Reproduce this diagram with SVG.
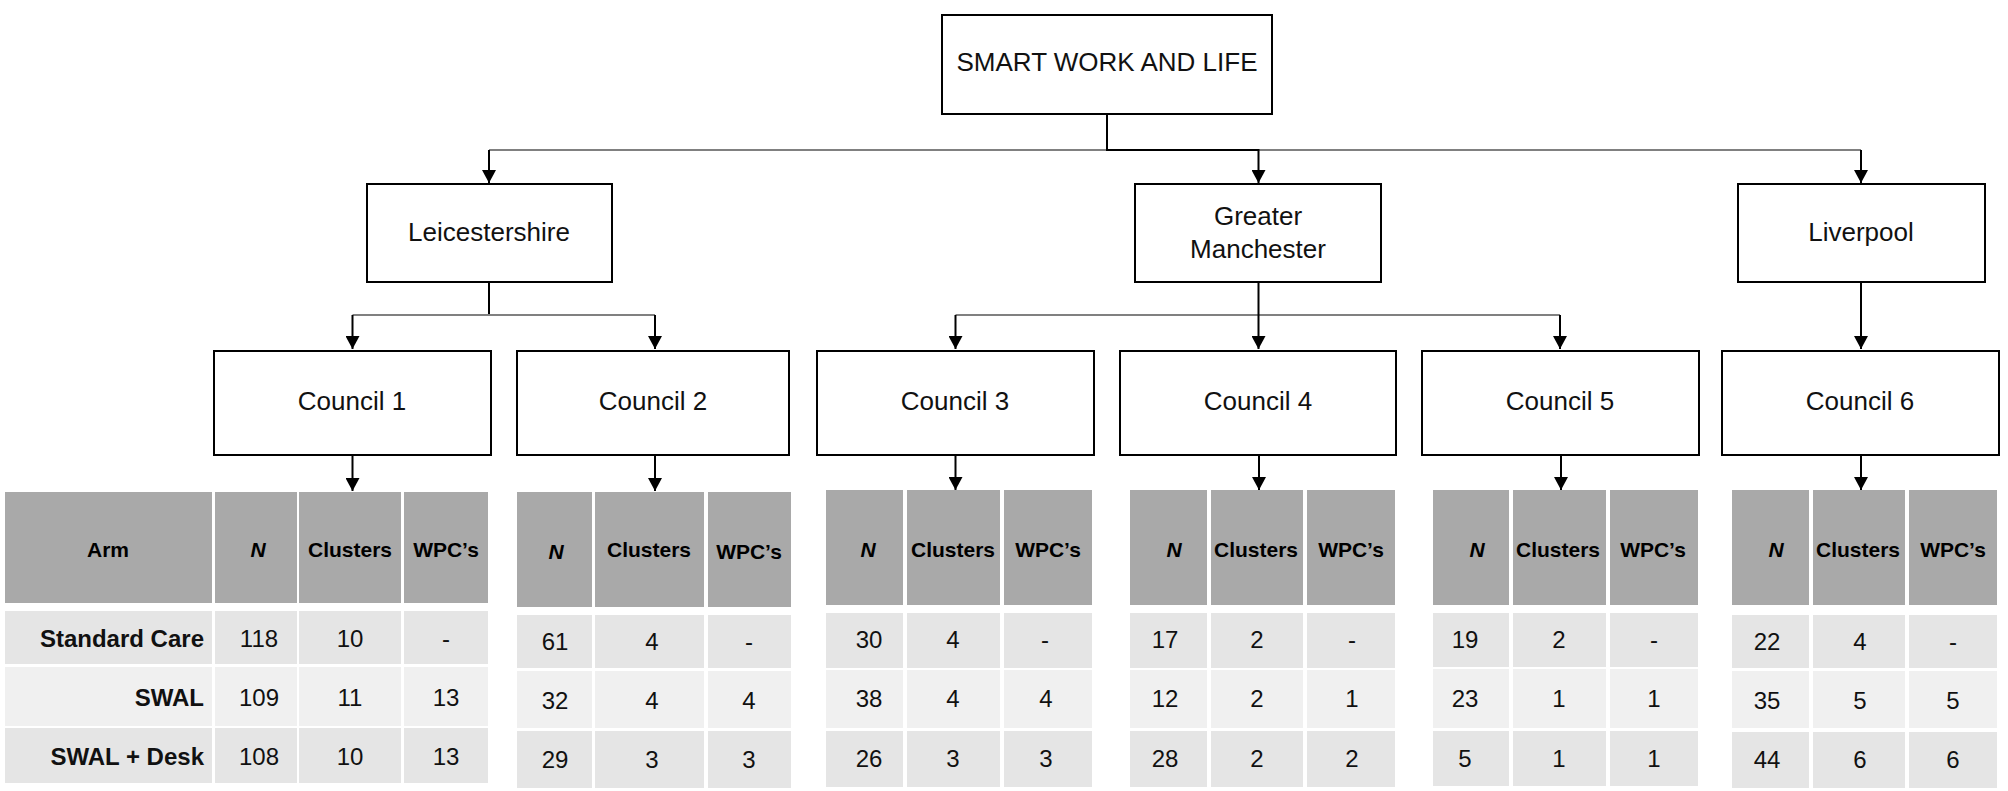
<svg xmlns="http://www.w3.org/2000/svg" width="2008" height="791" viewBox="0 0 2008 791">
<defs>
<style>
.box{fill:#fff;stroke:#000;stroke-width:2}
.lbl{font-family:"Liberation Sans",Arial,sans-serif;font-size:26px;fill:#111;text-anchor:middle}
.c{fill:none;stroke:#000;stroke-width:2}
.g{fill:none;stroke:#808080;stroke-width:2}
.a{marker-end:url(#arr)}
.h{fill:#a9a9a9}
.r1{fill:#e5e5e5}
.r2{fill:#f0f0f0}
.ht{font-family:"Liberation Sans",Arial,sans-serif;font-size:21px;font-weight:bold;fill:#000;text-anchor:middle}
.hn{font-style:italic}
.v{font-family:"Liberation Sans",Arial,sans-serif;font-size:24px;fill:#111;text-anchor:middle}
.rl{font-family:"Liberation Sans",Arial,sans-serif;font-size:24px;font-weight:bold;fill:#111;text-anchor:end}
</style>
<marker id="arr" viewBox="0 0 13 14" refX="13" refY="7" markerWidth="13" markerHeight="14" markerUnits="userSpaceOnUse" orient="auto">
<path d="M0,0 L13,7 L0,14 z" fill="#000"/>
</marker>
</defs>
<rect width="2008" height="791" fill="#fff"/>

<g id="connectors">
<path class="g" d="M489,150 H1861"/>
<path class="c a" d="M1107,114 V150 H1258.5 V183"/>
<path class="c a" d="M489,150 V183"/>
<path class="c a" d="M1861,150 V183"/>
<path class="c" d="M489,282 V315"/>
<path class="g" d="M352.5,315 H655"/>
<path class="c a" d="M352.5,315 V349"/>
<path class="c a" d="M655,315 V349"/>
<path class="g" d="M955.5,315 H1560"/>
<path class="c a" d="M1258.5,282 V349"/>
<path class="c a" d="M955.5,315 V349"/>
<path class="c a" d="M1560,315 V349"/>
<path class="c a" d="M1861,282 V349"/>
<path class="c a" d="M352.5,456 V491"/>
<path class="c a" d="M655,456 V491"/>
<path class="c a" d="M955.5,456 V490"/>
<path class="c a" d="M1259,456 V490"/>
<path class="c a" d="M1561,456 V490"/>
<path class="c a" d="M1861,456 V490"/>
</g>

<g id="root">
<rect class="box" x="942" y="15" width="330" height="99"/>
<text class="lbl" x="1107" y="71" font-size="25">SMART WORK AND LIFE</text>
</g>
<g id="leicestershire">
<rect class="box" x="367" y="184" width="245" height="98"/>
<text class="lbl" x="489" y="241">Leicestershire</text>
</g>
<g id="greater-manchester">
<rect class="box" x="1135" y="184" width="246" height="98"/>
<text class="lbl" x="1258" y="225">Greater</text>
<text class="lbl" x="1258" y="258">Manchester</text>
</g>
<g id="liverpool">
<rect class="box" x="1738" y="184" width="247" height="98"/>
<text class="lbl" x="1861" y="241">Liverpool</text>
</g>

<g id="council1">
<rect class="box" x="214" y="351" width="277" height="104"/>
<text class="lbl" x="352" y="410">Council 1</text>
</g>
<g id="council2">
<rect class="box" x="517" y="351" width="272" height="104"/>
<text class="lbl" x="653" y="410">Council 2</text>
</g>
<g id="council3">
<rect class="box" x="817" y="351" width="277" height="104"/>
<text class="lbl" x="955" y="410">Council 3</text>
</g>
<g id="council4">
<rect class="box" x="1120" y="351" width="276" height="104"/>
<text class="lbl" x="1258" y="410">Council 4</text>
</g>
<g id="council5">
<rect class="box" x="1422" y="351" width="277" height="104"/>
<text class="lbl" x="1560" y="410">Council 5</text>
</g>
<g id="council6">
<rect class="box" x="1722" y="351" width="277" height="104"/>
<text class="lbl" x="1860" y="410">Council 6</text>
</g>

<g id="table1">
<rect class="h" x="5" y="492" width="207" height="111"/>
<rect class="h" x="215" y="492" width="82" height="111"/>
<rect class="h" x="299" y="492" width="102" height="111"/>
<rect class="h" x="404" y="492" width="84" height="111"/>
<rect class="r1" x="5" y="611" width="207" height="53"/>
<rect class="r1" x="215" y="611" width="82" height="53"/>
<rect class="r1" x="299" y="611" width="102" height="53"/>
<rect class="r1" x="404" y="611" width="84" height="53"/>
<rect class="r2" x="5" y="667" width="207" height="59"/>
<rect class="r2" x="215" y="667" width="82" height="59"/>
<rect class="r2" x="299" y="667" width="102" height="59"/>
<rect class="r2" x="404" y="667" width="84" height="59"/>
<rect class="r1" x="5" y="728" width="207" height="55"/>
<rect class="r1" x="215" y="728" width="82" height="55"/>
<rect class="r1" x="299" y="728" width="102" height="55"/>
<rect class="r1" x="404" y="728" width="84" height="55"/>
<text class="ht" x="108" y="557">Arm</text>
<text class="ht hn" x="258" y="557">N</text>
<text class="ht" x="350" y="557">Clusters</text>
<text class="ht" x="446" y="557">WPC’s</text>
<text class="rl" x="204" y="647">Standard Care</text>
<text class="rl" x="204" y="706">SWAL</text>
<text class="rl" x="204" y="765">SWAL + Desk</text>
<text class="v" x="259" y="647">118</text>
<text class="v" x="350" y="647">10</text>
<text class="v" x="446" y="647">-</text>
<text class="v" x="259" y="706">109</text>
<text class="v" x="350" y="706">11</text>
<text class="v" x="446" y="706">13</text>
<text class="v" x="259" y="765">108</text>
<text class="v" x="350" y="765">10</text>
<text class="v" x="446" y="765">13</text>
</g>

<g id="table2">
<rect class="h" x="517" y="492" width="75" height="115"/>
<rect class="h" x="595" y="492" width="109" height="115"/>
<rect class="h" x="708" y="492" width="83" height="115"/>
<rect class="r1" x="517" y="615" width="75" height="53"/>
<rect class="r1" x="595" y="615" width="109" height="53"/>
<rect class="r1" x="708" y="615" width="83" height="53"/>
<rect class="r2" x="517" y="671" width="75" height="57"/>
<rect class="r2" x="595" y="671" width="109" height="57"/>
<rect class="r2" x="708" y="671" width="83" height="57"/>
<rect class="r1" x="517" y="731" width="75" height="57"/>
<rect class="r1" x="595" y="731" width="109" height="57"/>
<rect class="r1" x="708" y="731" width="83" height="57"/>
<text class="ht hn" x="556" y="559">N</text>
<text class="ht" x="649" y="557">Clusters</text>
<text class="ht" x="749" y="559">WPC’s</text>
<text class="v" x="555" y="650">61</text>
<text class="v" x="652" y="650">4</text>
<text class="v" x="749" y="650">-</text>
<text class="v" x="555" y="709">32</text>
<text class="v" x="652" y="709">4</text>
<text class="v" x="749" y="709">4</text>
<text class="v" x="555" y="768">29</text>
<text class="v" x="652" y="768">3</text>
<text class="v" x="749" y="768">3</text>
</g>

<g id="table3">
<rect class="h" x="826" y="490" width="77" height="115"/>
<rect class="h" x="907" y="490" width="93" height="115"/>
<rect class="h" x="1004" y="490" width="88" height="115"/>
<rect class="r1" x="826" y="613" width="77" height="55"/>
<rect class="r1" x="907" y="613" width="93" height="55"/>
<rect class="r1" x="1004" y="613" width="88" height="55"/>
<rect class="r2" x="826" y="670" width="77" height="58"/>
<rect class="r2" x="907" y="670" width="93" height="58"/>
<rect class="r2" x="1004" y="670" width="88" height="58"/>
<rect class="r1" x="826" y="731" width="77" height="56"/>
<rect class="r1" x="907" y="731" width="93" height="56"/>
<rect class="r1" x="1004" y="731" width="88" height="56"/>
<text class="ht hn" x="868" y="557">N</text>
<text class="ht" x="953" y="557">Clusters</text>
<text class="ht" x="1048" y="557">WPC’s</text>
<text class="v" x="869" y="648">30</text>
<text class="v" x="953" y="648">4</text>
<text class="v" x="1045" y="648">-</text>
<text class="v" x="869" y="707">38</text>
<text class="v" x="953" y="707">4</text>
<text class="v" x="1046" y="707">4</text>
<text class="v" x="869" y="767">26</text>
<text class="v" x="953" y="767">3</text>
<text class="v" x="1046" y="767">3</text>
</g>

<g id="table4">
<rect class="h" x="1130" y="490" width="77" height="115"/>
<rect class="h" x="1211" y="490" width="92" height="115"/>
<rect class="h" x="1307" y="490" width="88" height="115"/>
<rect class="r1" x="1130" y="613" width="77" height="55"/>
<rect class="r1" x="1211" y="613" width="92" height="55"/>
<rect class="r1" x="1307" y="613" width="88" height="55"/>
<rect class="r2" x="1130" y="670" width="77" height="58"/>
<rect class="r2" x="1211" y="670" width="92" height="58"/>
<rect class="r2" x="1307" y="670" width="88" height="58"/>
<rect class="r1" x="1130" y="731" width="77" height="56"/>
<rect class="r1" x="1211" y="731" width="92" height="56"/>
<rect class="r1" x="1307" y="731" width="88" height="56"/>
<text class="ht hn" x="1174" y="557">N</text>
<text class="ht" x="1256" y="557">Clusters</text>
<text class="ht" x="1351" y="557">WPC’s</text>
<text class="v" x="1165" y="648">17</text>
<text class="v" x="1257" y="648">2</text>
<text class="v" x="1352" y="648">-</text>
<text class="v" x="1165" y="707">12</text>
<text class="v" x="1257" y="707">2</text>
<text class="v" x="1352" y="707">1</text>
<text class="v" x="1165" y="767">28</text>
<text class="v" x="1257" y="767">2</text>
<text class="v" x="1352" y="767">2</text>
</g>

<g id="table5">
<rect class="h" x="1433" y="490" width="76" height="115"/>
<rect class="h" x="1513" y="490" width="93" height="115"/>
<rect class="h" x="1610" y="490" width="88" height="115"/>
<rect class="r1" x="1433" y="613" width="76" height="54"/>
<rect class="r1" x="1513" y="613" width="93" height="54"/>
<rect class="r1" x="1610" y="613" width="88" height="54"/>
<rect class="r2" x="1433" y="669" width="76" height="59"/>
<rect class="r2" x="1513" y="669" width="93" height="59"/>
<rect class="r2" x="1610" y="669" width="88" height="59"/>
<rect class="r1" x="1433" y="731" width="76" height="55"/>
<rect class="r1" x="1513" y="731" width="93" height="55"/>
<rect class="r1" x="1610" y="731" width="88" height="55"/>
<text class="ht hn" x="1477" y="557">N</text>
<text class="ht" x="1558" y="557">Clusters</text>
<text class="ht" x="1653" y="557">WPC’s</text>
<text class="v" x="1465" y="648">19</text>
<text class="v" x="1559" y="648">2</text>
<text class="v" x="1654" y="648">-</text>
<text class="v" x="1465" y="707">23</text>
<text class="v" x="1559" y="707">1</text>
<text class="v" x="1654" y="707">1</text>
<text class="v" x="1465" y="767">5</text>
<text class="v" x="1559" y="767">1</text>
<text class="v" x="1654" y="767">1</text>
</g>

<g id="table6">
<rect class="h" x="1732" y="490" width="77" height="115"/>
<rect class="h" x="1813" y="490" width="92" height="115"/>
<rect class="h" x="1909" y="490" width="88" height="115"/>
<rect class="r1" x="1732" y="615" width="77" height="53"/>
<rect class="r1" x="1813" y="615" width="92" height="53"/>
<rect class="r1" x="1909" y="615" width="88" height="53"/>
<rect class="r2" x="1732" y="671" width="77" height="57"/>
<rect class="r2" x="1813" y="671" width="92" height="57"/>
<rect class="r2" x="1909" y="671" width="88" height="57"/>
<rect class="r1" x="1732" y="732" width="77" height="56"/>
<rect class="r1" x="1813" y="732" width="92" height="56"/>
<rect class="r1" x="1909" y="732" width="88" height="56"/>
<text class="ht hn" x="1776" y="557">N</text>
<text class="ht" x="1858" y="557">Clusters</text>
<text class="ht" x="1953" y="557">WPC’s</text>
<text class="v" x="1767" y="650">22</text>
<text class="v" x="1860" y="650">4</text>
<text class="v" x="1953" y="650">-</text>
<text class="v" x="1767" y="709">35</text>
<text class="v" x="1860" y="709">5</text>
<text class="v" x="1953" y="709">5</text>
<text class="v" x="1767" y="768">44</text>
<text class="v" x="1860" y="768">6</text>
<text class="v" x="1953" y="768">6</text>
</g>
</svg>
